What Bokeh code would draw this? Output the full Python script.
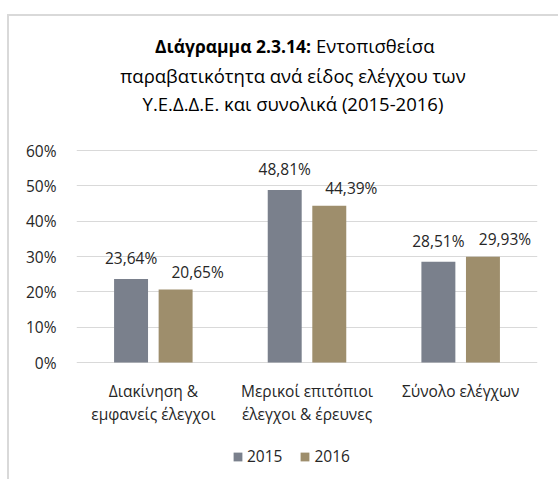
from bokeh.plotting import figure
from bokeh.models import (ColumnDataSource, Legend, LegendItem, FixedTicker,
                          PrintfTickFormatter, Range1d)
from bokeh.transform import dodge
from bokeh.embed import file_html
from bokeh.resources import INLINE
from bokeh.core.properties import value

# ---- data ----
categories = ["Διακίνηση &\nεμφανείς έλεγχοι",
              "Μερικοί επιτόπιοι\nέλεγχοι & έρευνες",
              "Σύνολο ελέγχων"]
series_names = ["2015", "2016"]
values_2015 = [23.64, 48.81, 28.51]
values_2016 = [20.65, 44.39, 29.93]
y_ticks = [0, 10, 20, 30, 40, 50, 60]
title_bold = "Διάγραμμα 2.3.14:"
title_rest = ["Εντοπισθείσα",
              "παραβατικότητα ανά είδος ελέγχου των",
              "Υ.Ε.Δ.Δ.Ε. και συνολικά (2015-2016)"]

def fmt(v):
    return f"{v:.2f}".replace(".", ",") + "%"

src = ColumnDataSource(dict(
    cat=categories,
    v2015=values_2015,
    v2016=values_2016,
    l2015=[fmt(v) for v in values_2015],
    l2016=[fmt(v) for v in values_2016],
))

FONT = "Open Sans"
C15 = "#7A808C"
C16 = "#9E8E6C"
TXT = "#262626"
FS = "15.5px"
TFS = "18.5px"
TFS_B = "17.5px"

# layout geometry (pixels): frame spans the whole canvas height,
# 60% grid at 134 px below canvas top, 0% grid 119 px above canvas bottom
W, H = 551, 465
ppu = 212 / 60.0
y_lo = -119 / ppu
y_hi = 60 + 134 / ppu

p = figure(x_range=categories, y_range=Range1d(y_lo, y_hi),
           width=W, height=H, output_backend="svg", toolbar_location=None,
           min_border_left=67, min_border_right=23, min_border_top=0,
           min_border_bottom=0)
p.styles = {"margin-left": "7px", "margin-top": "14px",
            "border-top": "2px solid #d9d9d9",
            "border-left": "2px solid #d9d9d9"}
p.outline_line_color = None
p.background_fill_color = "white"
p.border_fill_color = "white"

r1 = p.vbar(x=dodge("cat", -0.145, range=p.x_range), top="v2015", width=0.221,
            source=src, fill_color=C15, line_color=None)
r2 = p.vbar(x=dodge("cat", 0.145, range=p.x_range), top="v2016", width=0.221,
            source=src, fill_color=C16, line_color=None)

# data labels
p.text(x=dodge("cat", -0.145, range=p.x_range), y="v2015", text="l2015", source=src,
       text_font=value(FONT), text_font_size=FS, text_color=TXT,
       text_align="center", text_baseline="middle", y_offset=-21)
p.text(x=dodge("cat", 0.145, range=p.x_range), y="v2016", text="l2016", source=src,
       text_font=value(FONT), text_font_size=FS, text_color=TXT,
       text_align="center", text_baseline="middle", y_offset=-18, x_offset=22)

# category labels (below the 0% line)
p.text(x="cat", y=0, text="cat", source=src,
       text_font=value(FONT), text_font_size=FS, text_color=TXT,
       text_align="center", text_baseline="top", y_offset=17,
       text_line_height=1.08)

# title
ttl_x = [categories[1]]
p.text(x=ttl_x, y=[60], text=[title_bold], x_offset=4, y_offset=-105,
       text_font=value(FONT), text_font_size=TFS_B, text_font_style="bold",
       text_color="#000000", text_align="right", text_baseline="middle")
p.text(x=ttl_x, y=[60], text=[title_rest[0]], x_offset=9, y_offset=-105,
       text_font=value(FONT), text_font_size=TFS,
       text_color="#000000", text_align="left", text_baseline="middle")
p.text(x=ttl_x, y=[60], text=[title_rest[1]], x_offset=-14, y_offset=-75,
       text_font=value(FONT), text_font_size=TFS,
       text_color="#000000", text_align="center", text_baseline="middle")
p.text(x=ttl_x, y=[60], text=[title_rest[2]], x_offset=-14, y_offset=-47,
       text_font=value(FONT), text_font_size=TFS,
       text_color="#000000", text_align="center", text_baseline="middle")

# axes
p.yaxis.ticker = FixedTicker(ticks=y_ticks)
p.yaxis.formatter = PrintfTickFormatter(format="%d%%")
p.yaxis.axis_line_color = None
p.yaxis.major_tick_line_color = None
p.yaxis.minor_tick_line_color = None
p.yaxis.major_label_standoff = 14
p.yaxis.major_label_text_font = FONT
p.yaxis.major_label_text_font_size = FS
p.yaxis.major_label_text_color = TXT
p.xaxis.visible = False

p.xgrid.grid_line_color = None
p.ygrid.grid_line_color = "#d9d9d9"
p.ygrid.grid_line_width = 1

# legend
legend = Legend(items=[LegendItem(label=series_names[0], renderers=[r1]),
                       LegendItem(label=series_names[1], renderers=[r2])],
                orientation="horizontal", location=(156, 14),
                glyph_width=11, glyph_height=11, label_standoff=4, spacing=17,
                label_height=20, padding=0, margin=0, border_line_color=None,
                background_fill_alpha=0,
                label_text_font=FONT, label_text_font_size=FS,
                label_text_color=TXT)
p.add_layout(legend, "center")

open("out.html", "w").write(file_html(p, INLINE))
